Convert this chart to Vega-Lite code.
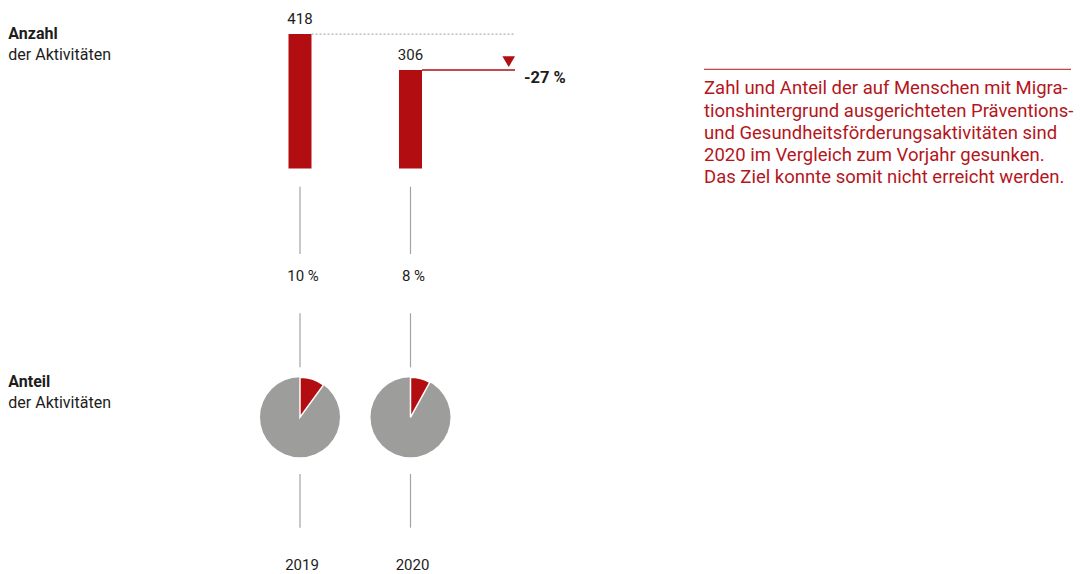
{
  "$schema": "https://vega.github.io/schema/vega-lite/v6.json",
  "width": 1083,
  "height": 574,
  "autosize": {"type": "none"},
  "padding": 0,
  "background": "white",
  "config": {
    "view": {"stroke": null},
    "axis": {"disable": true},
    "font": "Roboto",
    "text": {"font": "Roboto", "fontSize": 15, "color": "#1d1d1b"}
  },
  "datasets": {
    "jahre": [
      {"jahr": 2019, "anzahl": 418, "anteil": "10 %", "wert": 10},
      {"jahr": 2020, "anzahl": 306, "anteil": "8 %", "wert": 8}
    ],
    "eins": [{}]
  },
  "data": {"name": "jahre"},
  "layer": [
    {
      "mark": {"type": "bar", "width": 23, "color": "#b20e12", "orient": "vertical"},
      "encoding": {
        "x": {"field": "jahr", "type": "quantitative", "scale": {"domain": [2016.2851, 2026.086], "nice": false, "zero": false, "padding": 0}, "axis": null},
        "y": {"field": "anzahl", "type": "quantitative", "scale": {"domain": [-1261.3, 524.1], "nice": false, "zero": false, "padding": 0}, "axis": null},
        "y2": {"datum": 0}
      }
    },
    {
      "mark": {"type": "text", "dy": -10, "baseline": "alphabetic", "align": "center"},
      "encoding": {
        "x": {"field": "jahr", "type": "quantitative"},
        "y": {"field": "anzahl", "type": "quantitative"},
        "text": {"field": "anzahl", "type": "quantitative", "format": "d"}
      }
    },
    {
      "transform": [{"filter": "datum.jahr == 2019"}],
      "mark": {"type": "rule", "color": "#9a9a9a", "strokeWidth": 1, "strokeDash": [2, 2]},
      "encoding": {
        "x": {"datum": 2019.104},
        "x2": {"datum": 2020.9457},
        "y": {"field": "anzahl", "type": "quantitative"}
      }
    },
    {
      "transform": [{"filter": "datum.jahr == 2020"}],
      "mark": {"type": "rule", "color": "#b20e12", "strokeWidth": 1.5},
      "encoding": {
        "x": {"datum": 2020.1041},
        "x2": {"datum": 2020.9457},
        "y": {"field": "anzahl", "type": "quantitative"}
      }
    },
    {
      "transform": [{"filter": "datum.jahr == 2020"}],
      "mark": {"type": "point", "shape": "triangle-down", "size": 160, "filled": true, "color": "#b20e12", "opacity": 1},
      "encoding": {
        "x": {"datum": 2020.8888},
        "y": {"field": "anzahl", "type": "quantitative"},
        "yOffset": {"value": -8.5}
      }
    },
    {
      "transform": [{"filter": "datum.jahr == 2020"}],
      "mark": {"type": "text", "text": "-27 %", "align": "left", "baseline": "middle", "dy": 8, "fontWeight": "bold", "fontSize": 16.5},
      "encoding": {
        "x": {"datum": 2021.0272},
        "y": {"field": "anzahl", "type": "quantitative"}
      }
    },
    {
      "mark": {"type": "rule", "color": "#a3a3a3", "strokeWidth": 1.2},
      "encoding": {
        "x": {"field": "jahr", "type": "quantitative"},
        "y": {"datum": -56.6},
        "y2": {"datum": -265.9}
      }
    },
    {
      "mark": {"type": "text", "baseline": "alphabetic", "align": "center", "dx": 3},
      "encoding": {
        "x": {"field": "jahr", "type": "quantitative"},
        "y": {"datum": -348.4},
        "text": {"field": "anteil", "type": "nominal"}
      }
    },
    {
      "mark": {"type": "rule", "color": "#a3a3a3", "strokeWidth": 1.2},
      "encoding": {
        "x": {"field": "jahr", "type": "quantitative"},
        "y": {"datum": -450.4},
        "y2": {"datum": -618.4}
      }
    },
    {
      "mark": {"type": "point", "shape": "circle", "size": 6400, "filled": true, "color": "#9d9d9c", "opacity": 1, "strokeWidth": 0},
      "encoding": {
        "x": {"field": "jahr", "type": "quantitative"},
        "y": {"datum": -773.9}
      }
    },
    {
      "transform": [{"filter": "datum.jahr == 2019"}],
      "mark": {"type": "arc", "outerRadius": 40, "stroke": "white", "strokeWidth": 1.5, "color": "#b20e12"},
      "encoding": {
        "x": {"field": "jahr", "type": "quantitative"},
        "y": {"datum": -773.9},
        "theta": {"field": "wert", "type": "quantitative", "stack": null, "scale": {"domain": [0, 100], "range": [0, 6.2832]}}
      }
    },
    {
      "transform": [{"filter": "datum.jahr == 2020"}],
      "mark": {"type": "arc", "outerRadius": 40, "stroke": "white", "strokeWidth": 1.5, "color": "#b20e12"},
      "encoding": {
        "x": {"field": "jahr", "type": "quantitative"},
        "y": {"datum": -773.9},
        "theta": {"field": "wert", "type": "quantitative", "stack": null}
      }
    },
    {
      "mark": {"type": "rule", "color": "#a3a3a3", "strokeWidth": 1.2},
      "encoding": {
        "x": {"field": "jahr", "type": "quantitative"},
        "y": {"datum": -950.3},
        "y2": {"datum": -1117.3}
      }
    },
    {
      "mark": {"type": "text", "baseline": "middle", "align": "center", "dx": 2},
      "encoding": {
        "x": {"field": "jahr", "type": "quantitative"},
        "y": {"datum": -1233.3},
        "text": {"field": "jahr", "type": "quantitative", "format": "d"}
      }
    },
    {
      "data": {"name": "eins"},
      "mark": {"type": "text", "text": "Anzahl", "align": "left", "baseline": "alphabetic", "fontWeight": "bold", "fontSize": 16},
      "encoding": {"x": {"datum": 2016.3602}, "y": {"datum": 402.8}}
    },
    {
      "data": {"name": "eins"},
      "mark": {"type": "text", "text": "der Aktivitäten", "align": "left", "baseline": "alphabetic", "fontSize": 16},
      "encoding": {"x": {"datum": 2016.3602}, "y": {"datum": 339.0}}
    },
    {
      "data": {"name": "eins"},
      "mark": {"type": "text", "text": "Anteil", "align": "left", "baseline": "alphabetic", "fontWeight": "bold", "fontSize": 16},
      "encoding": {"x": {"datum": 2016.3602}, "y": {"datum": -680.6}}
    },
    {
      "data": {"name": "eins"},
      "mark": {"type": "text", "text": "der Aktivitäten", "align": "left", "baseline": "alphabetic", "fontSize": 16},
      "encoding": {"x": {"datum": 2016.3602}, "y": {"datum": -744.0}}
    },
    {
      "data": {"name": "eins"},
      "mark": {"type": "rule", "color": "#b5151c", "strokeWidth": 1},
      "encoding": {"x": {"datum": 2022.6561}, "x2": {"datum": 2025.9773}, "y": {"datum": 308.6}}
    },
    {
      "data": {"name": "eins"},
      "mark": {
        "type": "text",
        "text": ["Zahl und Anteil der auf Menschen mit Migra-", "tionshintergrund ausgerichteten Präventions-", "und Gesundheitsförderungsaktivitäten sind", "2020 im Vergleich zum Vorjahr gesunken.", "Das Ziel konnte somit nicht erreicht werden."],
        "align": "left",
        "baseline": "alphabetic",
        "lineHeight": 22.25,
        "fontSize": 18.5,
        "color": "#b5151c"
      },
      "encoding": {"x": {"datum": 2022.6561}, "y": {"datum": 230.8}}
    }
  ]
}
